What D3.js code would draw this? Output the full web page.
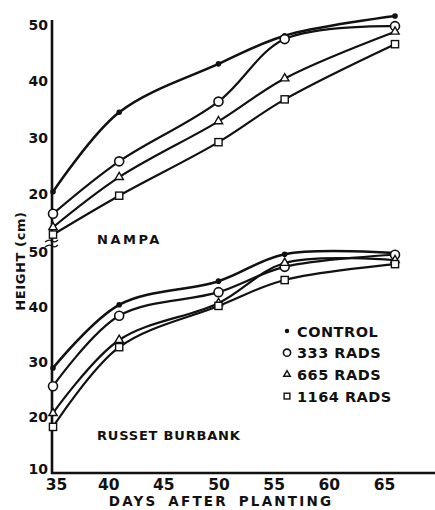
<!DOCTYPE html>
<html><head><meta charset="utf-8">
<script src="https://cdn.jsdelivr.net/npm/d3@7"></script>
<style>body{margin:0;background:#fff}svg{display:block}text{font-family:"DejaVu Sans",sans-serif;font-weight:bold;fill:#111}</style>
</head><body><svg id="c" width="435" height="510"></svg>
<script>
const days = [35, 41, 50, 56, 66];
const series = ["CONTROL", "333 RADS", "665 RADS", "1164 RADS"];
const markers = ["dot", "circle", "triangle", "square"];
const nampa = [
  [20.4, 34.5, 43.1, 48.1, 51.6],
  [16.5, 25.8, 36.4, 47.5, 49.8],
  [14.1, 23.0, 32.9, 40.5, 48.8],
  [12.8, 19.7, 29.2, 36.8, 46.6]
];
const russet = [
  [28.9, 40.4, 44.7, 49.6, 49.8],
  [25.6, 38.4, 42.7, 47.3, 49.5],
  [20.7, 34.0, 40.7, 48.0, 48.5],
  [18.2, 32.7, 40.2, 44.9, 47.8]
];
const xTicks = [35, 40, 45, 50, 55, 60, 65];
const topTicks = [20, 30, 40, 50];
const botTicks = [10, 20, 30, 40, 50];

const FONT = "'DejaVu Sans',sans-serif";
const svg = d3.select("#c");
const x = d3.scaleLinear().domain([35, 66]).range([53, 395]);
const yTop = d3.scaleLinear().domain([20, 50]).range([194, 25]);
const yBot = d3.scaleLinear().domain([10, 50]).range([472, 252]);

// axes lines
svg.append("line").attr("x1", 52).attr("x2", 52).attr("y1", 20).attr("y2", 474)
  .attr("stroke", "#111").attr("stroke-width", 2.6);
svg.append("line").attr("x1", 51).attr("x2", 435).attr("y1", 473).attr("y2", 473)
  .attr("stroke", "#111").attr("stroke-width", 2.6);
// break marks
[241, 246].forEach(yy => {
  svg.append("path").attr("d", `M45,${yy+1} Q49,${yy-2} 52,${yy} T58,${yy-1}`)
    .attr("fill", "none").attr("stroke", "#111").attr("stroke-width", 1.3);
});

function styleTicks(g, size) {
  g.select(".domain").remove();
  g.selectAll("text").style("font-size", size).style("font-family", FONT)
    .style("font-weight", "bold").attr("fill", "#111");
}
function yAxis(scale, ticks) {
  const g = svg.append("g").attr("transform", "translate(52,0)")
    .call(d3.axisLeft(scale).tickValues(ticks).tickSize(0).tickPadding(4));
  styleTicks(g, "14px");
  return g;
}
yAxis(yTop, topTicks);
const gb = yAxis(yBot, botTicks);
gb.selectAll(".tick text").filter(d => d === 10).attr("dy", "0.1em");

const gx = svg.append("g").attr("transform", "translate(0,473)")
  .call(d3.axisBottom(x).tickValues(xTicks).tickSize(0).tickPadding(6));
styleTicks(gx, "15.5px");
gx.selectAll(".tick text").filter(d => d === 35).attr("dx", "3");

svg.append("text").attr("x", 221).attr("y", 506).attr("text-anchor", "middle")
  .style("font-size", "13.5px").style("letter-spacing", "2.2px").style("word-spacing", "4px").text("DAYS AFTER PLANTING");
svg.append("text").attr("transform", "translate(25,261) rotate(-90)").attr("text-anchor", "middle")
  .style("font-size", "13px").style("letter-spacing", "0.6px").text("HEIGHT (cm)");

svg.append("text").attr("x", 97).attr("y", 244).style("font-size", "13px").style("letter-spacing", "2.5px").text("NAMPA");
svg.append("text").attr("x", 97).attr("y", 440).style("font-size", "13px").style("letter-spacing", "0.8px").text("RUSSET BURBANK");

function marker(g, type, cx, cy, big) {
  const s = big ? 1 : 0.8;
  if (type === "dot") g.append("circle").attr("cx", cx).attr("cy", cy).attr("r", 2.8 * s).attr("fill", "#111");
  else if (type === "circle") g.append("circle").attr("cx", cx).attr("cy", cy).attr("r", 4.5 * s).attr("fill", "#fff").attr("stroke", "#111").attr("stroke-width", 1.6);
  else if (type === "triangle") g.append("path").attr("d", d3.symbol(d3.symbolTriangle, 30 * s * s)()).attr("transform", `translate(${cx},${cy})`).attr("fill", "#fff").attr("stroke", "#111").attr("stroke-width", 1.4);
  else g.append("rect").attr("x", cx - 3.6 * s).attr("y", cy - 3.6 * s).attr("width", 7.2 * s).attr("height", 7.2 * s).attr("fill", "#fff").attr("stroke", "#111").attr("stroke-width", 1.4);
}

function panel(data, yScale) {
  const line = d3.line().x((d, i) => x(days[i])).y(d => yScale(d)).curve(d3.curveCatmullRom.alpha(0.5));
  data.forEach((vals, k) => {
    svg.append("path").attr("d", line(vals)).attr("fill", "none").attr("stroke", "#111")
      .attr("stroke-width", k === 0 ? 2.6 : 2.2);
  });
  data.forEach((vals, k) => {
    const g = svg.append("g");
    vals.forEach((v, i) => marker(g, markers[k], x(days[i]), yScale(v), true));
  });
}
panel(nampa, yTop);
panel(russet, yBot);

// legend
series.forEach((s, i) => {
  const yy = 331 + i * 21.7;
  const g = svg.append("g");
  marker(g, markers[i], 287, yy, false);
  svg.append("text").attr("x", 297).attr("y", yy + 5.5).style("font-size", "14.5px").style("letter-spacing", "0.5px").text(s);
});
</script></body></html>
